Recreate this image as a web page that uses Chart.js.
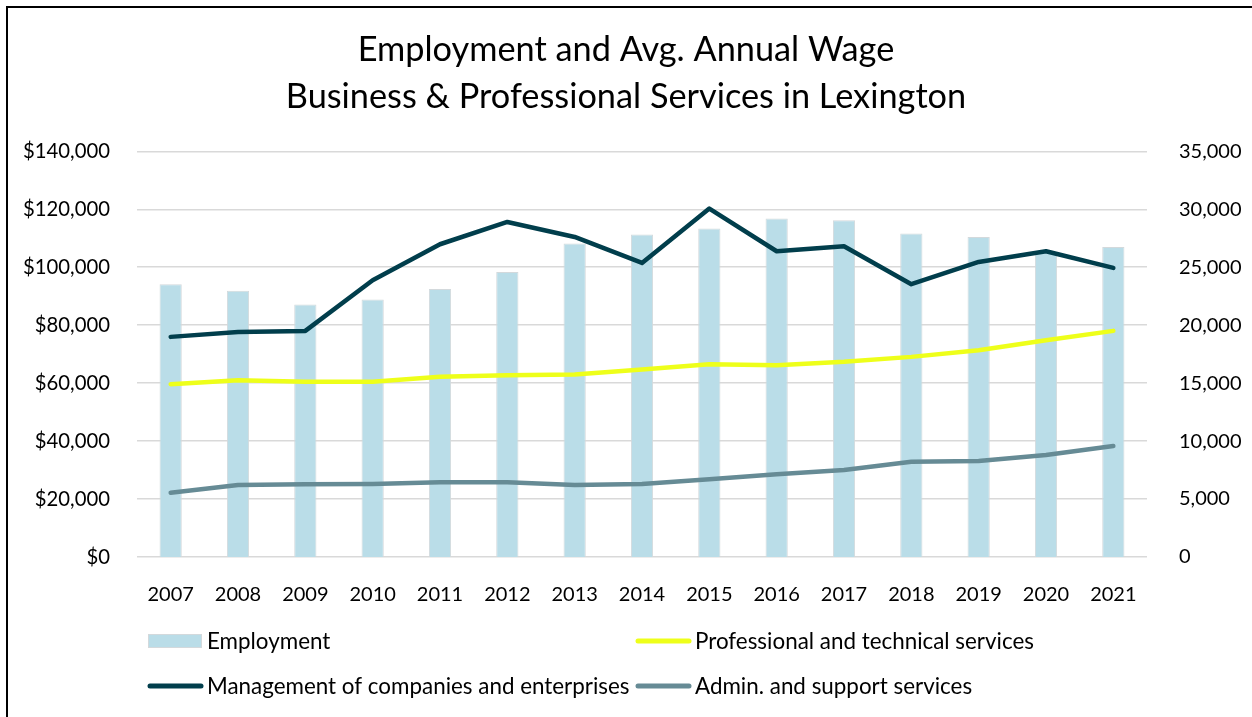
<!DOCTYPE html>
<html>
<head>
<meta charset="utf-8">
<script src="https://cdn.jsdelivr.net/npm/chart.js@4.4.0/dist/chart.umd.min.js"></script>
<style>
html, body { margin: 0; padding: 0; background: #fff; }
#wrap { position: relative; width: 1252px; height: 717px; overflow: hidden; }
#frame { position: absolute; left: 6px; top: 6px; width: 1300px; height: 800px;
         border-left: 2px solid #000; border-top: 2px solid #000; }
#chart { position: absolute; left: 0; top: 0; }
</style>
</head>
<body>
<div id="wrap">
  <div id="frame"></div>
  <canvas id="chart" width="1252" height="717"></canvas>
</div>
<script>
var FONT = "Lato, 'Open Sans', sans-serif";

var years = ['2007', '2008', '2009', '2010', '2011', '2012', '2013', '2014',
             '2015', '2016', '2017', '2018', '2019', '2020', '2021'];

// employment (right axis)
var employment = [23530, 22960, 21780, 22210, 23130, 24590, 27040, 27820,
                  28330, 29200, 29050, 27900, 27610, 26290, 26750];

// avg annual wage (left axis)
var profWage  = [59650, 61030, 60440, 60440, 62170, 62750, 63000, 64720,
                 66550, 66200, 67340, 69060, 71370, 74820, 78030];
var mgmtWage  = [75960, 77680, 78030, 95510, 107920, 115610, 110440, 101480,
                 120230, 105510, 107230, 94130, 101820, 105510, 99750];
var adminWage = [22170, 24830, 25070, 25170, 25760, 25760, 24830, 25170,
                 26790, 28520, 30000, 32860, 33100, 35170, 38270];

var titleLines = ['Employment and Avg. Annual Wage',
                  'Business & Professional Services in Lexington'];

// legend laid out in two rows, two columns like the original
var legendPos = [[148, 641], [636, 641], [148, 686], [636, 686]];

var gridLegend = {
  id: 'gridLegend',
  afterDraw: function(chart) {
    var ctx = chart.ctx;
    ctx.save();
    ctx.font = '22.4px ' + FONT;
    ctx.textBaseline = 'middle';
    ctx.fillStyle = '#000';
    chart.data.datasets.forEach(function(ds, i) {
      var x = legendPos[i][0], y = legendPos[i][1];
      if (ds.type === 'bar') {
        ctx.fillStyle = ds.backgroundColor;
        ctx.fillRect(x, y - 7, 54, 14);
        ctx.strokeStyle = ds.borderColor;
        ctx.lineWidth = 1;
        ctx.strokeRect(x + 0.5, y - 6.5, 53, 13);
      } else {
        ctx.strokeStyle = ds.borderColor;
        ctx.lineWidth = 5;
        ctx.lineCap = 'round';
        ctx.beginPath();
        ctx.moveTo(x + 2, y);
        ctx.lineTo(x + 53, y);
        ctx.stroke();
      }
      ctx.fillStyle = '#000';
      ctx.fillText(ds.label, x + 59, y + 1);
    });
    ctx.restore();
  }
};

var lineStyle = function(label, data, color) {
  return {
    type: 'line',
    label: label,
    data: data,
    yAxisID: 'y',
    borderColor: color,
    backgroundColor: color,
    borderWidth: 4.5,
    borderCapStyle: 'round',
    borderJoinStyle: 'round',
    pointRadius: 0,
    tension: 0,
    order: 1
  };
};

var ctx = document.getElementById('chart').getContext('2d');
window.myChart = new Chart(ctx, {
  data: {
    labels: years,
    datasets: [
      {
        type: 'bar',
        label: 'Employment',
        data: employment,
        yAxisID: 'y1',
        backgroundColor: '#BADDE8',
        borderColor: '#D3D9DC',
        borderWidth: 1,
        barPercentage: 0.33,
        categoryPercentage: 1,
        order: 10
      },
      lineStyle('Professional and technical services', profWage, '#EEFF1A'),
      lineStyle('Management of companies and enterprises', mgmtWage, '#013E4C'),
      lineStyle('Admin. and support services', adminWage, '#668B95')
    ]
  },
  options: {
    responsive: false,
    animation: false,
    layout: { padding: { left: 0, right: 0, top: 0, bottom: 110 } },
    plugins: {
      legend: { display: false },
      tooltip: { enabled: false },
      title: {
        display: true,
        text: titleLines,
        color: '#000',
        font: { family: FONT, size: 34.3, weight: 'normal', lineHeight: 1.36 },
        padding: { top: 27, bottom: 31 }
      }
    },
    scales: {
      x: {
        grid: { display: false },
        border: { display: false },
        ticks: { color: '#000', font: { family: FONT, size: 20 }, padding: 18, maxRotation: 0 },
        afterFit: function(s) { s.height = 50; }
      },
      y: {
        position: 'left',
        min: 0, max: 140000,
        ticks: {
          stepSize: 20000, color: '#000', padding: 27,
          font: { family: FONT, size: 20.3 },
          callback: function(v) { return '$' + v.toLocaleString('en-US'); }
        },
        grid: { color: '#D9D9D9', lineWidth: 1.5, drawTicks: false },
        border: { display: false },
        afterFit: function(s) { s.width = 137; }
      },
      y1: {
        position: 'right',
        min: 0, max: 35000,
        ticks: {
          stepSize: 5000, color: '#000', padding: 24,
          font: { family: FONT, size: 20 },
          callback: function(v) { return v.toLocaleString('en-US'); }
        },
        grid: { display: false },
        border: { display: false },
        afterFit: function(s) { s.width = 105; }
      }
    }
  },
  plugins: [gridLegend]
});
</script>
</body>
</html>
